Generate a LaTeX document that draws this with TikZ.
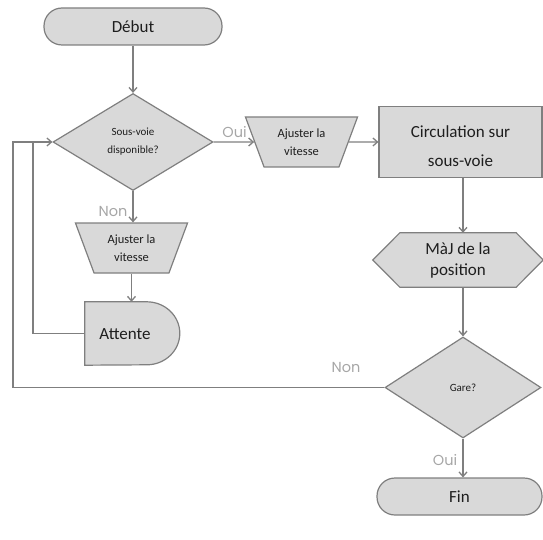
\documentclass[tikz,border=0pt]{standalone}
\usepackage{fontspec}
\setmainfont{Carlito}
\newfontfamily\labfont{Poppins}
\usetikzlibrary{shapes.geometric,arrows.meta,backgrounds,calc}
\definecolor{boxfill}{HTML}{D9D9D9}
\definecolor{boxline}{HTML}{7F7F7F}
\definecolor{txt}{HTML}{1E1E1E}
\definecolor{lab}{HTML}{A6A6A6}
\begin{document}
\begin{tikzpicture}[x=1pt,y=-1pt,
  shp/.style={fill=boxfill,draw=boxline,line width=1.2pt},
  big/.style={font=\fontsize{17}{21}\selectfont,text=txt,align=center},
  small/.style={font=\fontsize{11}{18}\selectfont,text=txt,align=center},
  term/.style={shp,big,rounded corners=18pt,minimum height=37pt,inner sep=0pt},
  dia/.style={shp,small,diamond,inner sep=0pt},
  trap/.style={shp,trapezium,shape border rotate=180,trapezium angle=66.7,
    trapezium stretches=true,minimum width=113pt,minimum height=50pt,inner sep=1pt,
    font=\fontsize{12.5}{18}\selectfont,text=txt,align=center},
  rectbox/.style={shp,big,rectangle,minimum width=163pt,minimum height=71pt,inner sep=0pt,
    font=\fontsize{17}{29}\selectfont,text height=49pt},
  ghost/.style={big,rectangle,inner sep=0pt},
  conn/.style={draw=boxline,line width=1.3pt,-{Straight Barb[length=4.5pt,width=8pt]}},
  plain/.style={draw=boxline,line width=1.3pt},
  yn/.style={font=\labfont\fontsize{14.5}{15}\selectfont,text=lab,inner sep=0pt},
]
\useasboundingbox (0,0) rectangle (543,540);

\node[term,minimum width=178pt] (debut) at (133,26.5) {Début};
\node[dia,minimum width=160pt,minimum height=97pt] (d1) at (133,142) {Sous-voie\\disponible?};
\node[trap] (t1) at (301.5,142) {Ajuster la\\vitesse};
\node[rectbox] (circ) at (460.5,142) {Circulation sur\\sous-voie};
\node[ghost,minimum width=170pt,minimum height=54pt,font=\fontsize{17}{21}\selectfont] (hex) at (458,260) {MàJ de la\\position};
\node[dia,minimum width=156pt,minimum height=101pt] (gare) at (463,387.5) {Gare?};
\node[term,minimum width=165pt] (fin) at (459.5,496.5) {Fin};
\node[trap] (t2) at (131.5,248) {Ajuster la\\vitesse};
\node[ghost,minimum width=95pt,minimum height=63pt] (att) at (132.5,333.5) {};
\node[big] (attlbl) at (125,334) {Attente};

\begin{scope}[on background layer]
  \path[shp] (hex.west) -- ($(hex.north west)+(27,0)$) -- ($(hex.north east)+(-27,0)$)
    -- (hex.east) -- ($(hex.south east)+(-27,0)$) -- ($(hex.south west)+(27,0)$) -- cycle;
  \path[shp] (att.north west) -- ++(62,0)
    arc[start angle=-90,end angle=90,x radius=33,y radius=31.5]
    -- (att.south west) -- cycle;
\end{scope}

\coordinate (jo) at (13,142);
\coordinate (ji) at (33,142);

\draw[conn] (debut) -- (d1);
\draw[conn] (d1) -- (t1);
\draw[conn] (t1) -- (circ);
\draw[conn] (d1.south) -- (d1.south |- t2.north);
\draw[conn] (t2.south) -- (t2.south |- att.north);
\draw[conn] (circ.south -| gare.center) -- (hex.north -| gare.center);
\draw[conn] (hex.south -| gare.center) -- (gare.north);
\draw[conn] (gare.south) -- (fin.north -| gare.center);
\draw[conn] (gare.west) -| (jo) -- (d1.west);
\draw[plain] (att.west) -| (ji);

\node[yn] (oui1) at (234.5,132) {Oui};
\node[yn] (non1) at (113,212) {Non};
\node[yn] (non2) at (346,368) {Non};
\node[yn] (oui2) at (445,460) {Oui};
\end{tikzpicture}
\end{document}
